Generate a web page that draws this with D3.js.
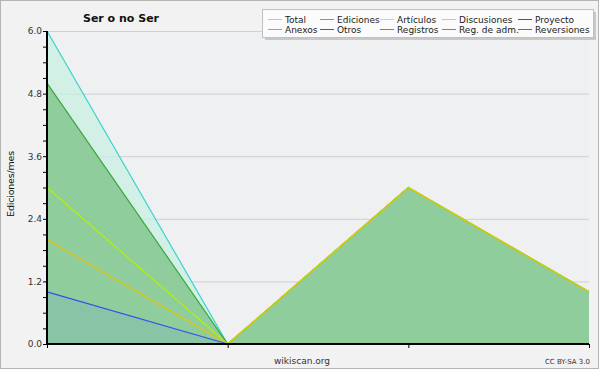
<!DOCTYPE html>
<html><head><meta charset="utf-8">
<script src="https://cdn.jsdelivr.net/npm/d3@7"></script>
<style>body{margin:0;background:#fff}svg{display:block;font-family:"DejaVu Sans",sans-serif}</style>
</head><body><svg id="c" width="600" height="370"></svg>
<script>
const months = ["m1","m2","m3","m4"];
const total = [6, 0, 3, 1];
const ediciones = [5, 0, 3, 1];
const articulos = [3, 0, 3, 1];
const discusiones = [2, 0, 3, 1];
const registros = [1, 0, 0, 0];
const yTicks = [0, 1.2, 2.4, 3.6, 4.8, 6.0];
const legendNames = ["Total","Ediciones","Artículos","Discusiones","Proyecto","Anexos","Otros","Registros","Reg. de adm.","Reversiones"];
const legendColors = ["#88dcdc","#5cb85c","#c0ee30","#ffc820","#555555","#ff8040","#8030e0","#7070ff","#d840f0","#ee3030"];

const svg = d3.select("#c");
svg.append("rect").attr("x",0.5).attr("y",0.5).attr("width",598).attr("height",368)
  .attr("fill","#f2f2f2").attr("stroke","#b4b4b4");

const L=47,R=589,T=31,B=344;
const x = d3.scalePoint().domain(months).range([L,R]);
const y = d3.scaleLinear().domain([0,6]).range([B,T]);

svg.append("rect").attr("x",L).attr("y",T).attr("width",R-L).attr("height",B-T).attr("fill","#eef0f2");

// grid
svg.append("g").selectAll("line").data(yTicks.slice(1)).join("line")
  .attr("x1",L).attr("x2",R).attr("y1",d=>y(d)+0.5).attr("y2",d=>y(d)+0.5)
  .attr("stroke","#cfcfcf");

const area = v => d3.area().x((d,i)=>x(months[i])).y0(B).y1(d=>y(d))(v);
const line = v => d3.line().x((d,i)=>x(months[i])).y(d=>y(d))(v);

svg.append("path").attr("d",area(total)).attr("fill","#c8efe2").attr("opacity",0.7);
svg.append("path").attr("d",area(ediciones)).attr("fill","#7cc487").attr("opacity",0.78);
svg.append("path").attr("d",area(registros)).attr("fill","#6a9cd0").attr("opacity",0.18);

svg.append("path").attr("d",line(total)).attr("fill","none").attr("stroke","#3cd2cc").attr("stroke-width",1.2);
svg.append("path").attr("d",line(ediciones)).attr("fill","none").attr("stroke","#3aa63a").attr("stroke-width",1.2);
svg.append("path").attr("d",line(articulos)).attr("fill","none").attr("stroke","#b4f000").attr("stroke-width",1.2);
svg.append("path").attr("d",line(discusiones)).attr("fill","none").attr("stroke","#e8c400").attr("stroke-width",1.2);
svg.append("path").attr("d",line(registros)).attr("fill","none").attr("stroke","#3350f0").attr("stroke-width",1.2);

// axes
const ya = d3.axisLeft(y).tickValues(d3.range(0,6.01,0.3)).tickSize(4).tickFormat(d=>{
  const r = Math.round(d*10)/10; return yTicks.some(t=>Math.abs(t-r)<1e-6)? r.toFixed(1):"";});
const gy = svg.append("g").attr("transform",`translate(${L},0)`).call(ya);
gy.select(".domain").attr("stroke","#000").attr("stroke-width",2).attr("d",`M0,${T}V${B}`);
gy.selectAll("text").attr("font-size",9).attr("fill","#333").attr("x",-5).attr("font-family","DejaVu Sans, sans-serif");

const xa = d3.axisBottom(x).tickSize(4).tickFormat("");
const gx = svg.append("g").attr("transform",`translate(0,${B})`).call(xa);
gx.select(".domain").attr("stroke","#000").attr("stroke-width",2).attr("d",`M${L},0H${R}`);

// title
svg.append("text").attr("x",121).attr("y",22).attr("text-anchor","middle")
  .attr("font-size",11).attr("font-weight","bold").attr("fill","#111").text("Ser o no Ser");
svg.append("text").attr("transform","translate(14,184) rotate(-90)").attr("text-anchor","middle")
  .attr("font-size",9.5).attr("letter-spacing",-0.2).attr("font-family","DejaVu Sans, sans-serif").attr("fill","#111").text("Ediciones/mes");
svg.append("text").attr("x",302).attr("y",364).attr("text-anchor","middle")
  .attr("font-size",9).attr("fill","#333").text("wikiscan.org");
svg.append("text").attr("x",590).attr("y",364).attr("text-anchor","end")
  .attr("font-size",7).attr("fill","#333").text("CC BY-SA 3.0");

// legend
const lg = svg.append("g");
lg.append("rect").attr("x",265).attr("y",12).attr("width",331).attr("height",28).attr("fill","#c8c8c8");
lg.append("rect").attr("x",262.5).attr("y",9.5).attr("width",331).attr("height",28).attr("fill","#fbfbfb").attr("stroke","#c0c0c0");
const colX = [268, 320, 380, 442, 518];
legendNames.forEach((n,i)=>{
  const c = i%5, r = Math.floor(i/5);
  const yy = 19 + r*10;
  lg.append("line").attr("x1",colX[c]).attr("x2",colX[c]+14).attr("y1",yy+0.5).attr("y2",yy+0.5)
    .attr("stroke",legendColors[i]).attr("stroke-width",1);
  lg.append("text").attr("x",colX[c]+17).attr("y",yy+3.5).attr("font-size",9).attr("fill","#222").text(n);
});
</script></body></html>
